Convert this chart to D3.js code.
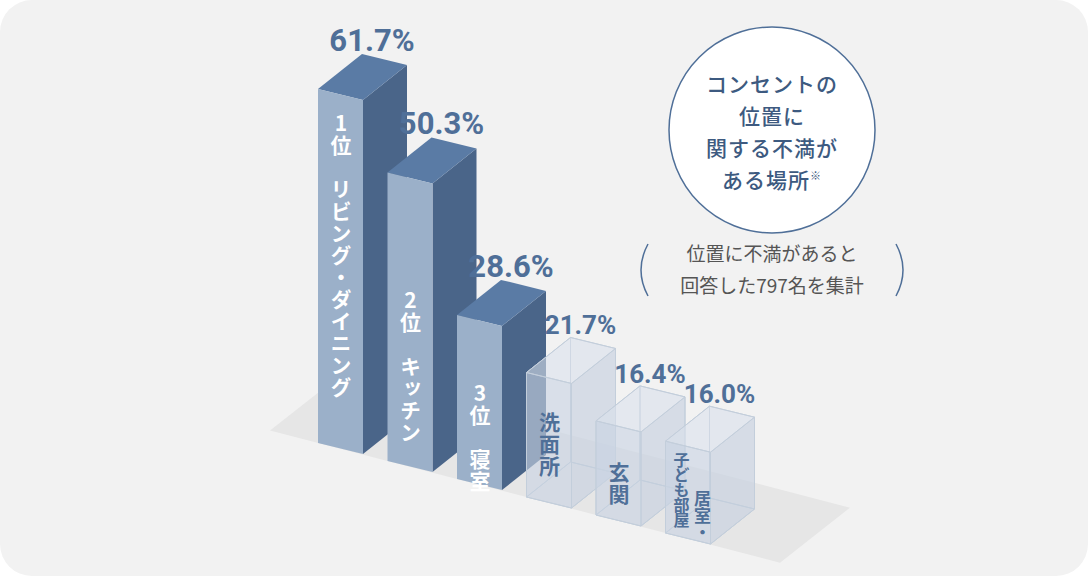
<!DOCTYPE html>
<html><head><meta charset="utf-8">
<script src="https://cdn.jsdelivr.net/npm/d3@7"></script>
<style>body{margin:0;background:#fff}svg{display:block}text{font-family:"Noto Sans CJK JP","Noto Sans",sans-serif}</style>
</head><body><svg id="c" width="1088" height="576"></svg>
<script>
const categories=["1位 リビング・ダイニング","2位 キッチン","3位 寝室","洗面所","玄関","居室・|子ども部屋"];
const values=[61.7,50.3,28.6,21.7,16.4,16.0];
const valueLabels=["61.7%","50.3%","28.6%","21.7%","16.4%","16.0%"];
const highlighted=[true,true,true,false,false,false];
const circleLines=["コンセントの","位置に","関する不満が","ある場所"];
const noteLines=["位置に不満があると","回答した797名を集計"];

const svg=d3.select("#c");
svg.append("rect").attr("x",0).attr("y",0).attr("width",1088).attr("height",576).attr("rx",32).attr("fill","#f2f2f2");
const xs=d3.scaleLinear().domain([0,5]).range([318,665.5]);
const bs=d3.scaleLinear().domain([0,5]).range([443,533]);
const h=d3.scaleLinear().domain([0,61.7]).range([0,354]);
const W=[45,11],D=[44,-35];
const pt=p=>p.map(q=>q.join(",")).join(" ");
// floor
const fx0=xs(0)-48,fy0=bs(0)-12.5,fx1=780,fy1=bs(0)+(780-xs(0))*0.259;
svg.append("polygon").attr("points",pt([[fx0,fy0],[fx0+70,fy0-55],[fx1+70,fy1-55],[fx1,fy1]])).attr("fill","#e6e6e6");
values.forEach((v,i)=>{
  const x=xs(i),b=bs(i),t=b-h(v);
  const fl=[x,t],fr=[x+W[0],t+W[1]],bl=[x,b],br=[x+W[0],b+W[1]];
  const add=(p,d)=>[p[0]+D[0],p[1]+D[1]];
  const g=svg.append("g");
  if(highlighted[i]){
    g.append("polygon").attr("points",pt([fr,add(fr),add(br),br])).attr("fill","#4a6589");
    g.append("polygon").attr("points",pt([fl,add(fl),add(fr),fr])).attr("fill","#5a7ba5");
    g.append("polygon").attr("points",pt([fl,fr,br,bl])).attr("fill","#9bb0c9");
  } else {
    const st="#c3cedb";
    g.append("polygon").attr("points",pt([add(fl),add(fr),add(br),add(bl)])).attr("fill","rgba(205,214,228,0.35)").attr("stroke",st);
    g.append("polygon").attr("points",pt([fl,add(fl),add(bl),bl])).attr("fill","rgba(205,214,228,0.3)").attr("stroke",st);
    g.append("polygon").attr("points",pt([bl,br,add(br),add(bl)])).attr("fill","rgba(205,214,228,0.3)").attr("stroke",st);
    g.append("polygon").attr("points",pt([fr,add(fr),add(br),br])).attr("fill","rgba(195,206,222,0.45)").attr("stroke",st);
    g.append("polygon").attr("points",pt([fl,add(fl),add(fr),fr])).attr("fill","rgba(225,231,240,0.4)").attr("stroke",st);
    g.append("polygon").attr("points",pt([fl,fr,br,bl])).attr("fill","rgba(200,211,226,0.45)").attr("stroke",st);
  }
  svg.append("text").attr("x",x+54).attr("y",t-38).attr("text-anchor","middle")
    .attr("font-family","Roboto,Arial,sans-serif").style("font-family","Roboto,Arial,sans-serif")
    .attr("font-size",i<3?31:26).attr("font-weight",700).attr("fill","#4f6f98").text(valueLabels[i]);
  const col=highlighted[i]?"#fff":"#4f6f98";
  const starts=[113,290,383,412,462,490];
  const parts=categories[i].split("|");
  if(parts.length===1){
    svg.append("text").attr("x",x+23).attr("y",starts[i]).style("writing-mode","vertical-rl").style("text-orientation","upright")
      .attr("font-size",21).attr("font-weight",700).attr("fill",col).attr("letter-spacing",1).text(parts[0]);
  } else {
    svg.append("text").attr("x",x+37).attr("y",starts[i]).style("writing-mode","vertical-rl").style("text-orientation","upright")
      .attr("font-size",17).attr("font-weight",700).attr("fill",col).text(parts[0]);
    svg.append("text").attr("x",x+16).attr("y",452).style("writing-mode","vertical-rl").style("text-orientation","upright")
      .attr("font-size",16).attr("font-weight",700).attr("fill",col).attr("letter-spacing",-1).text(parts[1]);
  }
});
// circle
svg.append("circle").attr("cx",772).attr("cy",130).attr("r",103).attr("fill","#fff").attr("stroke","#4f6f98").attr("stroke-width",1.5);
circleLines.forEach((l,i)=>{
  const t=svg.append("text").attr("x",772).attr("y",92+i*32).attr("text-anchor","middle").attr("font-size",21).attr("font-weight",500).attr("fill","#3d5a80").attr("letter-spacing",1).text(l);
  if(i===3) t.append("tspan").attr("font-size",11).attr("dy",-8).text("※");
});
noteLines.forEach((l,i)=>svg.append("text").attr("x",772).attr("y",261+i*32).attr("text-anchor","middle").attr("font-size",19).attr("fill","#555").text(l));
svg.append("path").attr("d","M648,244 Q634,270 648,296").attr("fill","none").attr("stroke","#4f6f98").attr("stroke-width",1.5);
svg.append("path").attr("d","M896,244 Q910,270 896,296").attr("fill","none").attr("stroke","#4f6f98").attr("stroke-width",1.5);
</script></body></html>
